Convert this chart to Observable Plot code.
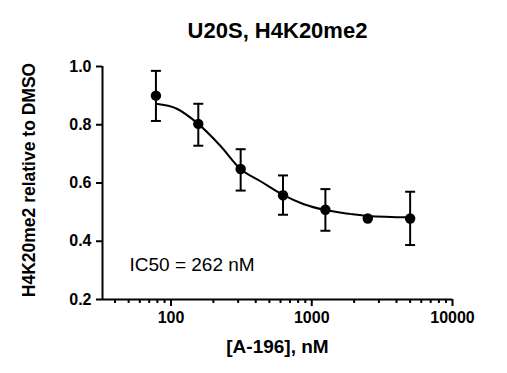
<!DOCTYPE html>
<html>
<head>
<meta charset="utf-8">
<script src="https://cdn.jsdelivr.net/npm/d3@7"></script>
<script src="https://cdn.jsdelivr.net/npm/@observablehq/plot@0.6"></script>
<style>
  html, body { margin: 0; padding: 0; background: #fff; }
</style>
</head>
<body>
<div id="chart"></div>
<script>
// Data
const concentrations = [78.125, 156.25, 312.5, 625, 1250, 2500, 5000];
const meanValues     = [0.900, 0.803, 0.648, 0.558, 0.508, 0.478, 0.478];
const upperValues    = [0.985, 0.872, 0.716, 0.626, 0.579, null, 0.570];
const lowerValues    = [0.813, 0.728, 0.574, 0.491, 0.436, null, 0.387];

// Fitted curve
const fitConcentrations = [78.125, 110, 156, 224, 312, 432, 625, 870, 1250, 1870, 2500, 5000];
const fitValues         = [0.872, 0.855, 0.803, 0.728, 0.648, 0.606, 0.559, 0.528, 0.507, 0.494, 0.487, 0.482];

const xMajorTicks = [100, 1000, 10000];
const xMinorTicks = [40, 50, 60, 70, 80, 90, 200, 300, 400, 500, 600, 700, 800, 900,
                     2000, 3000, 4000, 5000, 6000, 7000, 8000, 9000];
const yTicks = [0.2, 0.4, 0.6, 0.8, 1.0];
const xDomain = [32.6, 10000];
const yDomain = [0.2, 1.0];

const titleText = "U20S, H4K20me2";
const xLabel = "[A-196], nM";
const yLabel = "H4K20me2 relative to DMSO";
const annotation = "IC50 = 262 nM";

const points = concentrations.map((c, i) => ({
  conc: c, mean: meanValues[i], hi: upperValues[i], lo: lowerValues[i]
}));
const bars = points.filter(d => d.hi != null);
const fit = fitConcentrations.map((c, i) => ({conc: c, value: fitValues[i]}));

const capSymbol = {
  draw(context, size) {
    const r = Math.sqrt(size / Math.PI);
    context.moveTo(-r, 0);
    context.lineTo(r, 0);
  }
};

const font = "'Liberation Sans', Arial, sans-serif";

const chart = Plot.plot({
  width: 507,
  height: 373,
  marginLeft: 102,
  marginRight: 55,
  marginTop: 66,
  marginBottom: 74,
  style: {fontFamily: font, fontSize: "16px", fontWeight: "bold", color: "#000", background: "#fff"},
  x: {type: "log", domain: xDomain},
  y: {domain: yDomain},
  marks: [
    // axis lines
    Plot.ruleY([yDomain[0]], {stroke: "#000", strokeWidth: 2}),
    Plot.ruleX([xDomain[0]], {stroke: "#000", strokeWidth: 2}),
    // axes
    Plot.axisY({ticks: yTicks, tickSize: 6, tickPadding: 5, tickFormat: d3.format(".1f"),
                strokeWidth: 2, fontSize: 16, fontWeight: "bold", label: null}),
    Plot.axisX({ticks: xMajorTicks, tickSize: 7, tickPadding: 5, tickFormat: d3.format("d"),
                strokeWidth: 2, fontSize: 16, fontWeight: "bold", label: null}),
    Plot.axisX({ticks: xMinorTicks, tickSize: 4, tickFormat: () => "", strokeWidth: 2, label: null}),
    // fitted curve
    Plot.line(fit, {x: "conc", y: "value", curve: "monotone-x", stroke: "#000", strokeWidth: 2}),
    // error bars
    Plot.ruleX(bars, {x: "conc", y1: "lo", y2: "hi", stroke: "#000", strokeWidth: 2}),
    Plot.dot(bars, {x: "conc", y: "hi", symbol: capSymbol, r: 5, stroke: "#000", strokeWidth: 2, fill: "none"}),
    Plot.dot(bars, {x: "conc", y: "lo", symbol: capSymbol, r: 5, stroke: "#000", strokeWidth: 2, fill: "none"}),
    // points
    Plot.dot(points, {x: "conc", y: "mean", r: 5.2, fill: "#000", stroke: "none"}),
    // texts
    Plot.text([titleText], {frameAnchor: "top", dy: -36, lineAnchor: "middle",
                            fontSize: 22, fontWeight: "bold", fill: "#000"}),
    Plot.text([xLabel], {frameAnchor: "bottom", dy: 47, lineAnchor: "middle",
                         fontSize: 19, fontWeight: "bold", fill: "#000"}),
    Plot.text([yLabel], {frameAnchor: "left", dx: -73, dy: -3, rotate: -90, textAnchor: "middle",
                         lineAnchor: "middle", fontSize: 17.5, fontWeight: "bold", fill: "#000"}),
    Plot.text([annotation], {frameAnchor: "bottom-left", dx: 27, dy: -35, textAnchor: "start",
                             lineAnchor: "middle", fontSize: 19, fontWeight: "normal", fill: "#000"})
  ]
});

document.getElementById("chart").appendChild(chart);
</script>
</body>
</html>
